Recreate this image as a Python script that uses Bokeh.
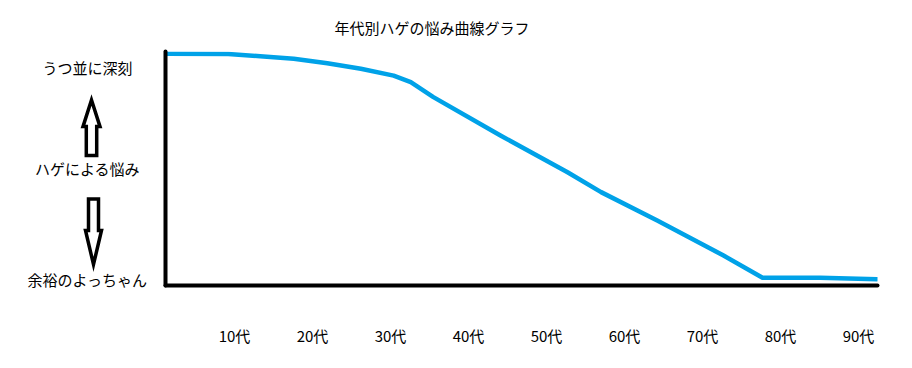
from bokeh.plotting import figure
from bokeh.layouts import row
from bokeh.models import Range1d, FixedTicker, ColumnDataSource
from bokeh.core.properties import value
from bokeh.embed import file_html
from bokeh.resources import INLINE

# ---- data ----
title_text = "年代別ハゲの悩み曲線グラフ"
age_ticks = [10, 20, 30, 40, 50, 60, 70, 80, 90]
age_labels = ["10代", "20代", "30代", "40代", "50代", "60代", "70代", "80代", "90代"]
worry_levels = [2.6, 50, 93]
worry_labels = ["余裕のよっちゃん", "ハゲによる悩み", "うつ並に深刻"]

curve_age = [1.4, 9.2, 13.3, 17.6, 21.9, 26.2, 30.4, 32.6, 35.5, 44.1,
             52.7, 57.0, 64.2, 72.7, 77.7, 85.1, 92.4]
curve_worry = [99.0, 98.9, 98.0, 96.9, 95.0, 92.6, 89.7, 86.9, 80.5, 64.1,
               48.4, 39.9, 27.8, 12.8, 3.3, 3.3, 2.7]

FONT = "Noto Sans CJK JP"
H = 352
TOP, BOTTOM = 51, 67

y_range = Range1d(0, 100)

# ---------------- main chart ----------------
p = figure(width=748, height=H, output_backend="svg", toolbar_location=None,
           x_range=Range1d(1.154, 92.44), y_range=y_range,
           min_border_left=15, min_border_right=21,
           min_border_top=TOP, min_border_bottom=BOTTOM,
           title=title_text)
p.outline_line_color = None
p.background_fill_color = "white"
p.border_fill_color = "white"
p.xgrid.visible = False
p.ygrid.visible = False

p.title.text_font = FONT
p.title.text_font_size = "15px"
p.title.text_font_style = "normal"
p.title.text_color = "black"
p.title.align = "left"
p.title.offset = 169
p.title.standoff = 26
p.title.vertical_align = "middle"

for ax in (p.xaxis[0], p.yaxis[0]):
    ax.axis_line_color = "black"
    ax.axis_line_width = 4
    ax.axis_line_cap = "round"
    ax.major_tick_line_color = None
    ax.minor_tick_line_color = None
    ax.major_tick_out = 0
    ax.major_tick_in = 0
    ax.minor_tick_out = 0
    ax.major_label_text_font = FONT
    ax.major_label_text_font_size = "15px"
    ax.major_label_text_color = "black"

p.xaxis[0].ticker = FixedTicker(ticks=age_ticks)
p.xaxis[0].major_label_overrides = {t: s for t, s in zip(age_ticks, age_labels)}
p.xaxis[0].major_label_standoff = 39

p.yaxis[0].ticker = FixedTicker(ticks=[])

p.line(curve_age, curve_worry, line_color="#00A2E8", line_width=4.5,
       line_cap="round", line_join="round")

# ---------------- left panel: level labels + hollow arrows ----------------
side = figure(width=150, height=H, output_backend="svg", toolbar_location=None,
              x_range=Range1d(0, 150), y_range=y_range,
              x_axis_type=None, y_axis_type=None,
              min_border_left=0, min_border_right=0,
              min_border_top=TOP, min_border_bottom=BOTTOM)
side.outline_line_color = None
side.xgrid.visible = False
side.ygrid.visible = False
side.background_fill_color = "white"
side.border_fill_color = "white"

lab_src = ColumnDataSource(dict(y=worry_levels, text=worry_labels))
side.text(x=87, y="y", text="text", source=lab_src, level="overlay",
          text_font=value(FONT), text_font_size=value("15px"),
          text_color="black", text_align="center", text_baseline="middle")


def hollow_arrow(xc, y_tail, y_base, y_tip, shaft_hw, head_hw):
    xs = [xc, xc + head_hw, xc + shaft_hw, xc + shaft_hw,
          xc - shaft_hw, xc - shaft_hw, xc - head_hw]
    ys = [y_tip, y_base, y_base, y_tail, y_tail, y_base, y_base]
    return xs, ys

arrows = [hollow_arrow(91, 55.6, 67.9, 79.3, 5.2, 8.5),
          hollow_arrow(93, 37.0, 23.5, 9.0, 5.0, 8.0)]
side.patches(xs=[a[0] for a in arrows], ys=[a[1] for a in arrows],
             fill_color="white", line_color="black", line_width=3.5,
             line_join="miter")

layout = row(side, p)
open("out.html", "w").write(file_html(layout, INLINE))
